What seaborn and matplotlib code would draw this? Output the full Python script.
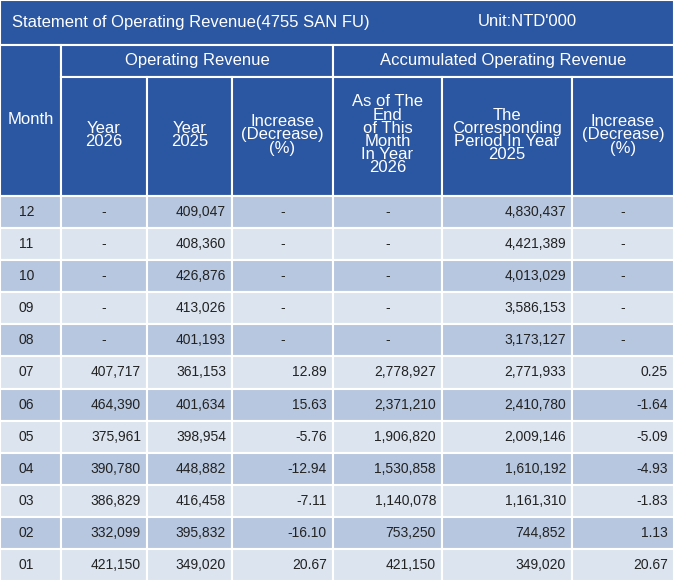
import numpy as np
import seaborn as sns
import matplotlib.pyplot as plt
from matplotlib.patches import Rectangle

months = ['12', '11', '10', '09', '08', '07', '06', '05', '04', '03', '02', '01']
rev_2026 = [None, None, None, None, None, 407717, 464390, 375961, 390780, 386829, 332099, 421150]
rev_2025 = [409047, 408360, 426876, 413026, 401193, 361153, 401634, 398954, 448882, 416458, 395832, 349020]
rev_pct = [None, None, None, None, None, 12.89, 15.63, -5.76, -12.94, -7.11, -16.10, 20.67]
acc_2026 = [None, None, None, None, None, 2778927, 2371210, 1906820, 1530858, 1140078, 753250, 421150]
acc_2025 = [4830437, 4421389, 4013029, 3586153, 3173127, 2771933, 2410780, 2009146, 1610192, 1161310, 744852, 349020]
acc_pct = [None, None, None, None, None, 0.25, -1.64, -5.09, -4.93, -1.83, 1.13, 20.67]

title = 'Statement of Operating Revenue(4755 SAN FU)'
unit = 'Unit:NTD\'000'
sub_heads = ['Year\n2026', 'Year\n2025', 'Increase\n(Decrease)\n(%)',
             'As of The\nEnd\nof This\nMonth\nIn Year\n2026',
             'The\nCorresponding\nPeriod In Year\n2025', 'Increase\n(Decrease)\n(%)']

sns.set_style('white')
plt.rcParams['font.family'] = ['Liberation Sans', 'DejaVu Sans']

HEAD = '#2b56a1'
ROW_A = '#b7c7df'
ROW_B = '#dce4ef'
cols = [0, 61, 147, 232, 333, 442, 572, 674]
W, H = 674, 581
top_body = 196
row_h = (H - top_body) / 12.0

fig = plt.figure(figsize=(6.74, 5.81), dpi=100)
ax = fig.add_axes([0, 0, 1, 1])
ax.set_xlim(0, W)
ax.set_ylim(H, 0)
ax.axis('off')


def cell(x0, y0, x1, y1, color):
    ax.add_patch(Rectangle((x0, y0), x1 - x0, y1 - y0, facecolor=color,
                           edgecolor='white', linewidth=1.5))


# title bar
cell(0, 0, W, 45, HEAD)
ax.text(12, 22, title, color='white', fontsize=12, va='center', ha='left')
ax.text(478, 22, unit, color='white', fontsize=12, va='center', ha='left')

# header
cell(0, 45, cols[1], top_body, HEAD)
ax.text(cols[1] / 2, 120, 'Month', color='white', fontsize=12, ha='center', va='center')
cell(cols[1], 45, cols[4], 77, HEAD)
ax.text((cols[1] + cols[4]) / 2, 61, 'Operating Revenue', color='white', fontsize=12, ha='center', va='center')
cell(cols[4], 45, W, 77, HEAD)
ax.text((cols[4] + W) / 2, 61, 'Accumulated Operating Revenue', color='white', fontsize=12, ha='center', va='center')
for i, lab in enumerate(sub_heads):
    x0, x1 = cols[i + 1], cols[i + 2]
    cell(x0, 77, x1, top_body, HEAD)
    ax.text((x0 + x1) / 2, 135, lab, color='white', fontsize=12, ha='center', va='center',
            linespacing=0.85)


def fmt_int(v):
    return '-' if v is None else f'{v:,}'


def fmt_pct(v):
    return '-' if v is None else f'{v:.2f}'


body = [rev_2026, rev_2025, rev_pct, acc_2026, acc_2025, acc_pct]
fmts = [fmt_int, fmt_int, fmt_pct, fmt_int, fmt_int, fmt_pct]
for r, m in enumerate(months):
    y0 = top_body + r * row_h
    y1 = y0 + row_h
    yc = (y0 + y1) / 2
    color = ROW_A if r % 2 == 0 else ROW_B
    cell(0, y0, cols[1], y1, color)
    ax.text(cols[1] / 2 - 4, yc, m, fontsize=10, color='#222222', ha='center', va='center')
    for c in range(6):
        x0, x1 = cols[c + 1], cols[c + 2]
        cell(x0, y0, x1, y1, color)
        v = body[c][r]
        s = fmts[c](v)
        if v is None:
            ax.text((x0 + x1) / 2, yc, s, fontsize=10, color='#222222', ha='center', va='center')
        else:
            ax.text(x1 - 6, yc, s, fontsize=10, color='#222222', ha='right', va='center')

fig.savefig('out.png', dpi=100)
